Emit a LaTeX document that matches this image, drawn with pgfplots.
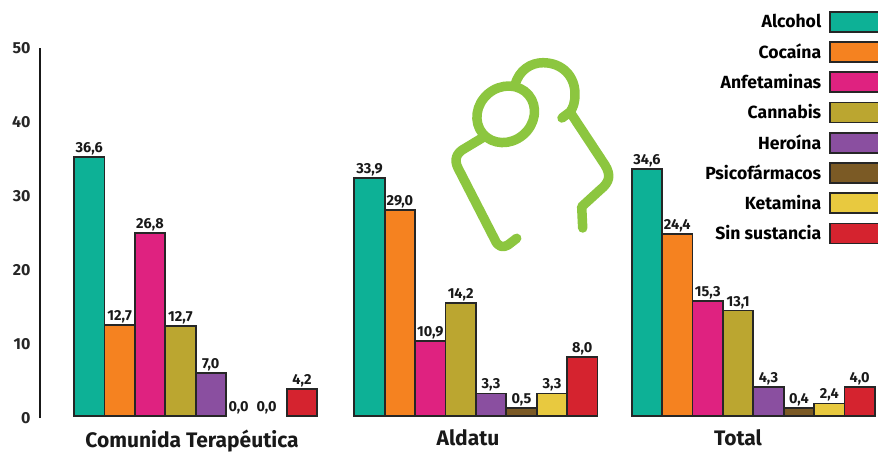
\documentclass[border=0pt]{standalone}
\usepackage{fontspec}
\setmainfont{Fira Sans}
\usepackage{pgfplots}
\pgfplotsset{compat=1.18}

\definecolor{alcohol}{HTML}{0DB196}
\definecolor{cocaina}{HTML}{F58220}
\definecolor{anfeta}{HTML}{DF2280}
\definecolor{cannabis}{HTML}{BBA630}
\definecolor{heroina}{HTML}{8A4FA0}
\definecolor{psico}{HTML}{7B5A25}
\definecolor{ketamina}{HTML}{E8C93F}
\definecolor{sinsust}{HTML}{D5232F}
\definecolor{logogreen}{HTML}{8CC63F}

\pgfplotsset{
  serie/.style 2 args={ybar, bar shift=#1, draw=black!85, line width=1.8bp, fill=#2,
    every node near coord/.append style={xshift=#1bp}},
}

\begin{document}
\begin{tikzpicture}
\begin{axis}[
  name=ax,
  scale only axis,
  width=838bp, height=370bp,
  xmin=40, xmax=878,
  ymin=-0.32, ymax=49.68,
  clip=false,
  axis lines*=left,
  x axis line style={draw=none},
  y axis line style={line width=1.6bp, black!90},
  bar width=30.4,
  tick style={draw=none},
  xtick={192,468,738},
  xticklabels={Comunida Terapéutica,Aldatu,Total},
  xticklabel style={font=\fontsize{21bp}{23bp}\selectfont\bfseries, text=black!90, yshift=-8.5bp},
  ytick={-0.32,9.68,19.68,29.68,39.68,49.68},
  yticklabels={0,10,20,30,40,50},
  yticklabel style={font=\fontsize{16bp}{18bp}\selectfont\bfseries, text=black!85, xshift=-6bp},
  nodes near coords,
  point meta=explicit symbolic,
  every node near coord/.append style={font=\fontsize{14.5bp}{16bp}\selectfont\bfseries, text=black!90, inner sep=1bp},
  legend plot pos=right,
  legend image code/.code={\draw[#1] (0bp,-10bp) rectangle (52bp,10bp);},
  legend style={
    at={(axis cs:883,54.7)}, anchor=north east,
    draw=none, fill=none, inner sep=0pt, outer sep=0pt,
    row sep=8.45bp,
    /tikz/column 1/.style={column sep=6bp},
    font=\fontsize{17.6bp}{19bp}\selectfont\bfseries,
    cells={anchor=east},
  },
]
\addplot[serie={-106.4}{alcohol}] table[x=x,y=y,meta=lab] {
x y lab
195.6 35.0 36,6
475.9 32.1 33,9
753.3 33.3 34,6
};
\addplot[serie={-76}{cocaina}] table[x=x,y=y,meta=lab] {
x y lab
195.6 12.25 12,7
475.9 27.8 29,0
753.3 24.5 24,4
};
\addplot[serie={-45.6}{anfeta}] table[x=x,y=y,meta=lab] {
x y lab
195.6 24.7 26,8
475.9 10.1 10,9
753.3 15.5 15,3
};
\addplot[serie={-15.2}{cannabis}] table[x=x,y=y,meta=lab] {
x y lab
195.6 12.1 12,7
475.9 15.2 14,2
753.3 14.2 13,1
};
\addplot[serie={15.2}{heroina}] table[x=x,y=y,meta=lab] {
x y lab
195.6 5.8 7,0
475.9 3.0 3,3
753.3 3.85 4,3
};
\addplot[serie={45.6}{psico}] table[x=x,y=y,meta=lab] {
x y lab
475.9 1.0 0,5
753.3 1.0 0,4
};
\addplot[serie={76}{ketamina}] table[x=x,y=y,meta=lab] {
x y lab
475.9 3.0 3,3
753.3 1.65 2,4
};
\addplot[serie={106.4}{sinsust}] table[x=x,y=y,meta=lab] {
x y lab
195.6 3.6 4,2
475.9 7.9 8,0
753.3 3.85 4,0
};
\legend{Alcohol,Cocaína,Anfetaminas,Cannabis,Heroína,Psicofármacos,Ketamina,Sin sustancia}
% the two empty bars of the first group only carry their label
\addplot[ybar, bar shift=45.6, draw=none, fill=none, forget plot,
  every node near coord/.append style={xshift=43bp}] table[x=x,y=y,meta=lab] {
x y lab
195.6 0 0,0
};
\addplot[ybar, bar shift=76, draw=none, fill=none, forget plot,
  every node near coord/.append style={xshift=71bp}] table[x=x,y=y,meta=lab] {
x y lab
195.6 0 0,0
};
\end{axis}
% logo, coordinates in pixels of the picture
\begin{scope}[shift={(ax.north west)}, shift={(-40bp,48bp)}, x=1bp, y=-1bp,
    draw=logogreen, line width=9.5bp, line cap=round, line join=round]
  \draw (505.7,114.3) ellipse[x radius=30, y radius=27, rotate=40];
  \draw (515,85) .. controls (519,70) and (531,62.7) .. (543,62.7)
    .. controls (562,62.7) and (575,76) .. (575,94)
    .. controls (575,103) and (573,108) .. (570,112) -- (562,118);
  \draw (572,115) -- (605,165) .. controls (611,175) and (610,182) .. (600,190)
    -- (581.7,206.7) -- (582.7,228);
  \draw (483.3,137.3) -- (465,148.3) .. controls (456,153) and (454,160) .. (458,168)
    -- (495,240) .. controls (498,247) and (503,248) .. (508,245) -- (516.7,238.3);
\end{scope}
\pgfresetboundingbox
\path[use as bounding box] ([shift={(-40bp,-35bp)}]ax.south west) rectangle ([shift={(0bp,48bp)}]ax.north east);
\end{tikzpicture}
\end{document}
